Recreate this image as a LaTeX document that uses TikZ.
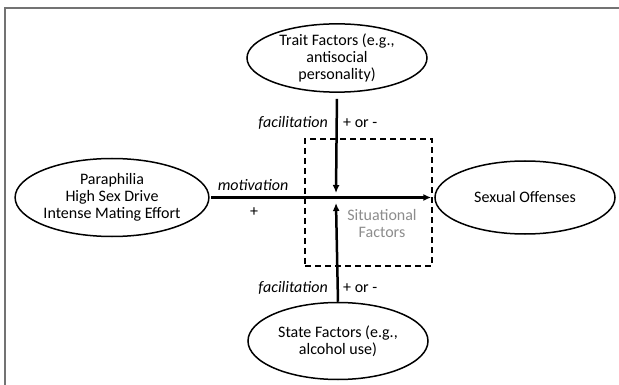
\documentclass[tikz,border=0pt]{standalone}
\usepackage{fontspec}
\setmainfont{Carlito}
\usetikzlibrary{shapes.geometric,arrows.meta}
\tikzset{>={Latex[length=8pt,width=7pt]}}
\tikzset{
  factor/.style={draw=black, line width=1.5pt, ellipse, inner sep=0pt, align=center, font=\fontsize{16}{17}\selectfont},
  flow/.style={->, line width=2.5pt},
  lbl/.style={inner sep=0pt, font=\fontsize{16}{17}\selectfont},
  lblit/.style={inner sep=0pt, font=\fontsize{16}{17}\selectfont\itshape}
}

\begin{document}
\begin{tikzpicture}[x=1pt,y=-1pt]

  \useasboundingbox (0,0) rectangle (619,385);

  \node[coordinate] (frame_bl) at (4.5,385) {};
  \node[coordinate] (frame_tl) at (4.5,8.5) {};
  \node[coordinate] (frame_tr) at (619,8.5) {};
  \node[coordinate] (cross_top) at (336,193) {};
  \node[coordinate] (cross_bot) at (336,203) {};

  \draw[black!55, line width=2pt] (frame_bl) -- (frame_tl) -- (frame_tr);

  \node[factor, minimum width=180pt, minimum height=68pt] (trait) at (337,58) {Trait Factors (e.g.,\\antisocial\\personality)};
  \node[factor, minimum width=183pt, minimum height=78pt] (para) at (112,197.5) {Paraphilia\\High Sex Drive\\Intense Mating Effort};
  \node[factor, minimum width=180pt, minimum height=73pt] (offense) at (525,197.5) {Sexual Offenses};
  \node[factor, minimum width=180pt, minimum height=77pt] (state) at (338,341) {State Factors (e.g.,\\alcohol use)};

  \node[draw, line width=2pt, dash pattern=on 6pt off 4pt, minimum width=127pt, minimum height=127pt, inner sep=0pt] (situ) at (368.5,202.5) {};
  \node[lbl, text=black!45, align=center] (situ_txt) at (382,224) {Situational\\Factors};

  \draw[flow, shorten <=1.5pt, shorten >=3pt] (para.east) -- (offense.west);
  \draw[flow, shorten <=6pt] (trait.south) -- (cross_top);
  \draw[flow] (state.north) -- (cross_bot);

  \node[lblit] (motiv) at (253,185) {motivation};
  \node[lbl] (plus) at (254,212) {+};

  \node[lblit, anchor=east] (facil_top) at (328,123) {facilitation};
  \node[lbl, anchor=west] (sign_top) at (343,123) {+ or -};
  \node[lblit, anchor=east] (facil_bot) at (328,288) {facilitation};
  \node[lbl, anchor=west] (sign_bot) at (343,288) {+ or -};

\end{tikzpicture}
\end{document}
